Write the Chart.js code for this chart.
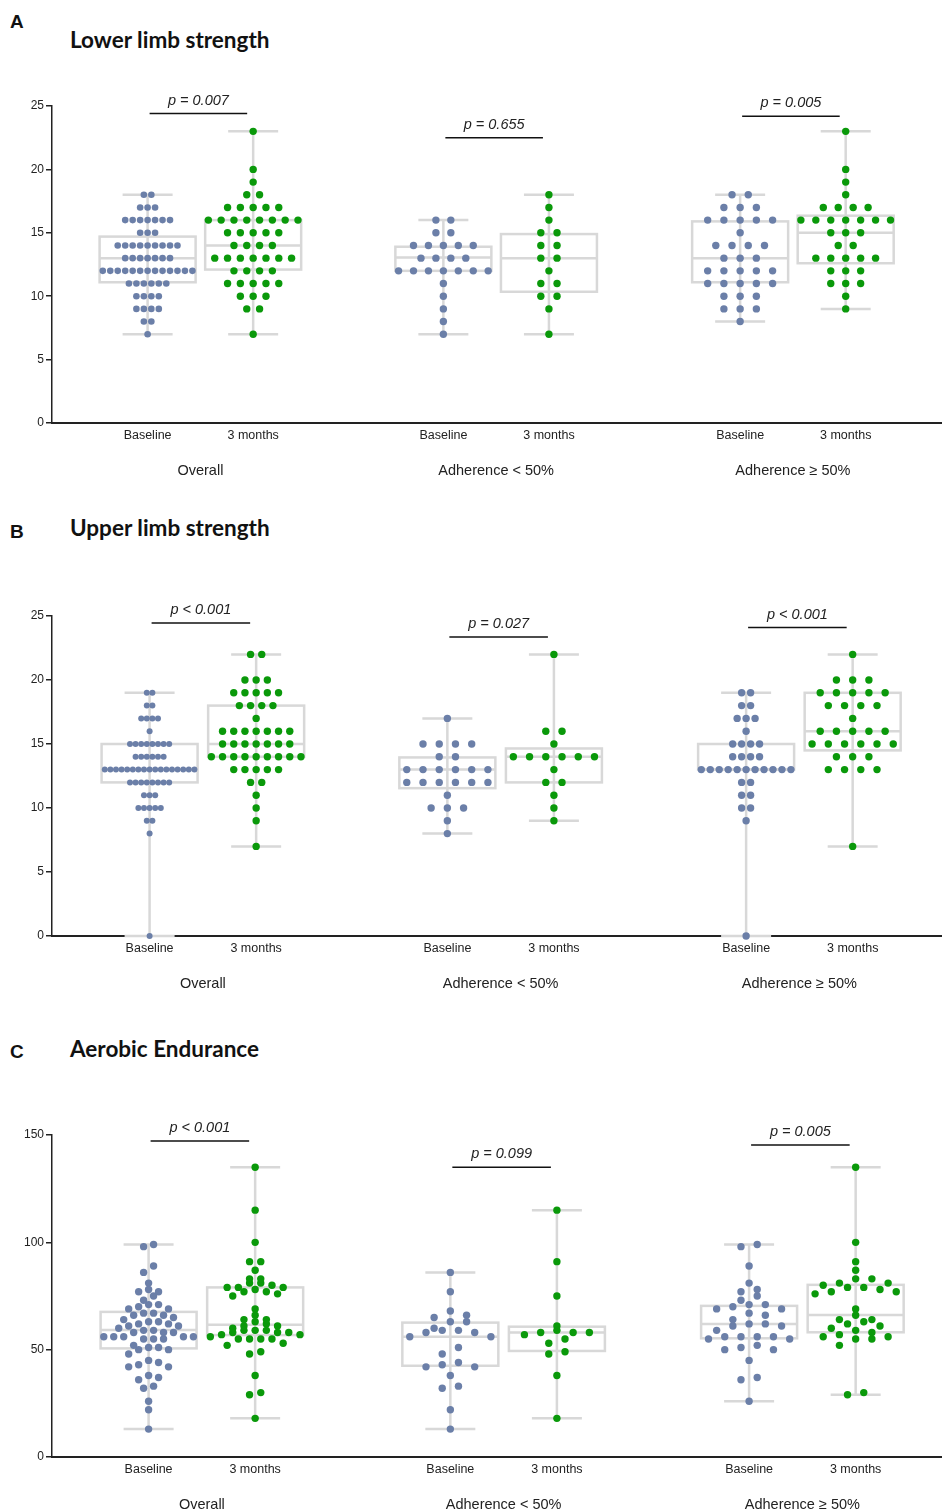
<!DOCTYPE html>
<html>
<head>
<meta charset="utf-8">
<script src="https://cdn.jsdelivr.net/npm/chart.js@4.4.1/dist/chart.umd.min.js"></script>
<style>
  body { margin: 0; background: #fff; }
  #page { position: relative; width: 945px; height: 1512px; overflow: hidden; }
  .letter { position: absolute; left: 10px; font: bold 19px 'Liberation Sans', Arial, sans-serif; color: #111; }
  .title { position: absolute; left: 70px; font: bold 22.5px Lato, 'Open Sans', sans-serif; color: #111; }
  canvas { position: absolute; left: 0; }
</style>
</head>
<body>
<div id="page">
  <div class="letter" style="top:11px">A</div>
  <div class="title" style="top:26px">Lower limb strength</div>
  <div class="letter" style="top:521px">B</div>
  <div class="title" style="top:514px">Upper limb strength</div>
  <div class="letter" style="top:1041px">C</div>
  <div class="title" style="top:1035px">Aerobic Endurance</div>
</div>
<script>
const columns = ['Baseline', '3 months'];
const groups = ['Overall', 'Adherence < 50%', 'Adherence \u2265 50%'];

// A - lower limb strength
const lowerOverallBase = [18,18,17,17,17,16,16,16,16,16,16,16,15,15,15,14,14,14,14,14,14,14,14,14,13,13,13,13,13,13,13,12,12,12,12,12,12,12,12,12,12,12,12,12,11,11,11,11,11,11,10,10,10,10,9,9,9,9,8,8,7];
const lowerOverallM3 = [23,20,19,18,18,17,17,17,17,17,16,16,16,16,16,16,16,16,15,15,15,15,15,14,14,14,14,13,13,13,13,13,13,13,12,12,12,12,11,11,11,11,11,10,10,10,9,9,7];
const lowerLowBase = [16,16,15,15,14,14,14,14,14,13,13,13,13,12,12,12,12,12,12,12,11,10,9,8,7];
const lowerLowM3 = [18,17,16,15,15,14,14,13,13,12,11,11,10,10,9,7];
const lowerHighBase = [18,18,17,17,17,16,16,16,16,16,15,14,14,14,14,13,13,13,12,12,12,12,12,11,11,11,11,11,10,10,10,9,9,9,8];
const lowerHighM3 = [23,20,19,18,17,17,17,17,16,16,16,16,16,16,16,15,15,15,14,14,13,13,13,13,13,12,12,12,11,11,11,10,9];
const lowerBox = [[7,11.1,13,14.7,18],[7,12.1,14,16,23],[7,12,13.05,13.9,16],[7,10.35,13,14.9,18],[8,11.1,13,15.9,18],[9,12.6,15,16.35,23]];
const lowerP = ['p = 0.007', 'p = 0.655', 'p = 0.005'];
const lowerSigY = [24.4, 22.5, 24.2];

// B - upper limb strength
const upperOverallBase = [19,19,18,18,17,17,17,17,16,15,15,15,15,15,15,15,15,14,14,14,14,14,14,13,13,13,13,13,13,13,13,13,13,13,13,13,13,13,13,13,12,12,12,12,12,12,12,12,11,11,11,10,10,10,10,10,9,9,8,0];
const upperOverallM3 = [22,22,20,20,20,19,19,19,19,19,18,18,18,18,17,16,16,16,16,16,16,16,15,15,15,15,15,15,15,14,14,14,14,14,14,14,14,14,13,13,13,13,13,12,12,11,10,9,7];
const upperLowBase = [17,15,15,15,15,14,14,13,13,13,13,13,13,12,12,12,12,12,12,11,10,10,10,9,8];
const upperLowM3 = [22,16,16,15,14,14,14,14,14,14,13,12,12,11,10,9];
const upperHighBase = [19,19,18,18,17,17,17,16,15,15,15,15,14,14,14,14,13,13,13,13,13,13,13,13,13,13,13,12,12,11,11,10,10,9,0];
const upperHighM3 = [22,20,20,20,19,19,19,19,19,18,18,18,18,17,16,16,16,16,16,15,15,15,15,15,15,14,14,14,13,13,13,13,7];
const upperBox = [[0,12,13,15,19],[7,14,15,18,22],[8,11.55,13,13.95,17],[9,12,14,14.65,22],[0,13,13,15,19],[7,14.5,16,19,22]];
const upperP = ['p < 0.001', 'p = 0.027', 'p < 0.001'];
const upperSigY = [24.45, 23.35, 24.1];

// C - aerobic endurance
const aerobicOverallBase = [99,98,89,86,81,78,77,77,75,73,71,71,70,69,69,67,67,66,66,65,64,63,63,62,62,61,61,60,59,59,58,58,58,56,56,56,56,56,55,55,55,52,51,51,50,50,48,45,44,43,42,42,38,37,36,33,32,26,22,13];
const aerobicOverallM3 = [135,115,100,91,91,87,83,83,81,81,80,79,79,79,78,77,77,76,75,69,66,64,64,63,62,61,61,60,59,59,59,58,58,58,57,57,56,55,55,55,55,53,52,49,48,38,30,29,18];
const aerobicLowBase = [86,77,68,66,65,63,63,60,59,59,58,58,56,56,51,48,44,43,42,42,38,33,32,22,13];
const aerobicLowM3 = [115,91,75,61,59,58,58,58,57,55,53,49,48,38,18];
const aerobicHighBase = [99,98,89,81,78,77,75,73,71,71,70,69,69,67,66,64,62,62,61,61,59,56,56,56,56,55,55,52,51,50,50,45,37,36,26];
const aerobicHighM3 = [135,100,91,87,83,83,81,81,80,79,79,78,77,77,76,69,66,64,64,63,62,61,60,59,58,57,56,56,55,55,52,30,29];
const aerobicBox = [[13,50.6,59.2,67.6,99],[18,56.8,61.6,79,135],[13,42.5,56,62.6,86],[18,49.4,58,60.7,115],[26,55.3,61.9,70.4,99],[29,58.1,66.1,80.2,135]];
const aerobicP = ['p < 0.001', 'p = 0.099', 'p = 0.005'];
const aerobicSigY = [147.2, 135, 145.3];

const BLUE = '#6b7fa8';
const GREEN = '#0a990a';
const BOXGREY = '#d8d8d8';
const FONT = "'Liberation Sans', Arial, sans-serif";
Chart.defaults.font.family = FONT;

// lays dots out in rows, like a column scatter
function swarm(values, pxPerUnit) {
  const sorted = values.slice().sort((a, b) => a - b);
  const bins = [];
  let cur = null;
  sorted.forEach(v => {
    if (!cur || (v - cur.start) * pxPerUnit > 7) { cur = { start: v, vals: [] }; bins.push(cur); }
    cur.vals.push(v);
  });
  const maxN = Math.max(...bins.map(b => b.vals.length));
  const sp = maxN > 1 ? Math.min(16.3, 90 / (maxN - 1)) : 16.3;
  const r = Math.min(3.7, Math.max(3, sp * 0.44));
  const pts = [];
  bins.forEach(b => {
    const n = b.vals.length;
    b.vals.forEach((v, i) => {
      const slot = i % 2 === 0 ? i / 2 : n - 1 - (i - 1) / 2;
      pts.push({ v: v, off: (slot - (n - 1) / 2) * sp });
    });
  });
  return { pts, r };
}

const panels = [
  { top: 60, height: 440, areaTop: 106, areaBottom: 423, yMax: 25, step: 5,
    xPos: [96, 202, 393, 499, 691, 797],
    series: [lowerOverallBase, lowerOverallM3, lowerLowBase, lowerLowM3, lowerHighBase, lowerHighM3],
    box: lowerBox, p: lowerP, sigY: lowerSigY },
  { top: 570, height: 440, areaTop: 616, areaBottom: 936, yMax: 25, step: 5,
    xPos: [98, 205, 397, 504, 697, 804],
    series: [upperOverallBase, upperOverallM3, upperLowBase, upperLowM3, upperHighBase, upperHighM3],
    box: upperBox, p: upperP, sigY: upperSigY },
  { top: 1090, height: 422, areaTop: 1135, areaBottom: 1457, yMax: 150, step: 50,
    xPos: [97, 204, 400, 507, 700, 807],
    series: [aerobicOverallBase, aerobicOverallM3, aerobicLowBase, aerobicLowM3, aerobicHighBase, aerobicHighM3],
    box: aerobicBox, p: aerobicP, sigY: aerobicSigY }
];

const boxPlugin = {
  id: 'boxes',
  beforeDatasetsDraw(chart) {
    const cfg = chart.options.plugins.boxes.cfg;
    const { ctx, scales: { x, y } } = chart;
    ctx.save();
    ctx.strokeStyle = BOXGREY;
    ctx.lineWidth = 2.5;
    cfg.box.forEach((b, i) => {
      const cx = x.getPixelForValue(cfg.xPos[i]);
      const [mn, q1, md, q3, mx] = b.map(v => y.getPixelForValue(v));
      ctx.beginPath();
      ctx.moveTo(cx, mn); ctx.lineTo(cx, mx);
      ctx.moveTo(cx - 25, mn); ctx.lineTo(cx + 25, mn);
      ctx.moveTo(cx - 25, mx); ctx.lineTo(cx + 25, mx);
      ctx.moveTo(cx - 48, md); ctx.lineTo(cx + 48, md);
      ctx.stroke();
      ctx.strokeRect(cx - 48, q3, 96, q1 - q3);
    });
    ctx.restore();
  },
  afterDraw(chart) {
    const cfg = chart.options.plugins.boxes.cfg;
    const { ctx, chartArea, scales: { x, y } } = chart;
    ctx.save();
    ctx.fillStyle = '#222';
    ctx.textAlign = 'center';
    ctx.textBaseline = 'middle';
    ctx.font = '12.5px ' + FONT;
    cfg.xPos.forEach((p, i) => {
      ctx.fillText(columns[i % 2], x.getPixelForValue(p), chartArea.bottom + 13);
    });
    ctx.font = '14.5px ' + FONT;
    groups.forEach((g, k) => {
      const mid = (x.getPixelForValue(cfg.xPos[2 * k]) + x.getPixelForValue(cfg.xPos[2 * k + 1])) / 2;
      ctx.fillText(g, mid, chartArea.bottom + 48);
    });
    // significance bars
    ctx.strokeStyle = '#111';
    ctx.lineWidth = 1.5;
    ctx.font = 'italic 14.5px ' + FONT;
    cfg.p.forEach((txt, k) => {
      const x1 = x.getPixelForValue(cfg.xPos[2 * k]) + 2;
      const x2 = x.getPixelForValue(cfg.xPos[2 * k + 1]) - 6;
      const yy = y.getPixelForValue(cfg.sigY[k]);
      ctx.beginPath();
      ctx.moveTo(x1, yy); ctx.lineTo(x2, yy);
      ctx.stroke();
      ctx.fillText(txt, (x1 + x2) / 2, yy - 13);
    });
    ctx.restore();
  }
};

const page = document.getElementById('page');
panels.forEach(cfg => {
  const canvas = document.createElement('canvas');
  canvas.width = 945;
  canvas.height = cfg.height;
  canvas.style.top = cfg.top + 'px';
  page.appendChild(canvas);
  const pxPerUnit = (cfg.areaBottom - cfg.areaTop) / cfg.yMax;
  const datasets = cfg.series.map((vals, i) => {
    const sw = swarm(vals, pxPerUnit);
    const col = i % 2 === 0 ? BLUE : GREEN;
    return {
      data: sw.pts.map(p => ({ x: cfg.xPos[i] + p.off, y: p.v })),
      backgroundColor: col,
      borderWidth: 0,
      pointRadius: sw.r,
      pointHoverRadius: sw.r,
      clip: false
    };
  });
  const xHeight = cfg.height - (cfg.areaBottom - cfg.top);
  new Chart(canvas, {
    type: 'scatter',
    data: { datasets },
    options: {
      responsive: false,
      animation: false,
      devicePixelRatio: 1,
      layout: { padding: { top: cfg.areaTop - cfg.top, right: 0, bottom: 0, left: 0 } },
      plugins: { legend: { display: false }, tooltip: { enabled: false }, boxes: { cfg } },
      scales: {
        x: {
          type: 'linear', min: 0, max: 893,
          ticks: { display: false },
          grid: { display: false },
          border: { display: true, color: '#222', width: 2 },
          afterFit(s) { s.height = xHeight; }
        },
        y: {
          min: 0, max: cfg.yMax,
          ticks: { stepSize: cfg.step, color: '#222', font: { size: 12 }, padding: 2 },
          grid: { drawOnChartArea: false, drawTicks: true, tickLength: 6, color: '#222', lineWidth: 1.5 },
          border: { display: true, color: '#222', width: 1.5 },
          afterFit(s) { s.width = 52; }
        }
      }
    },
    plugins: [boxPlugin]
  });
});
</script>
</body>
</html>
